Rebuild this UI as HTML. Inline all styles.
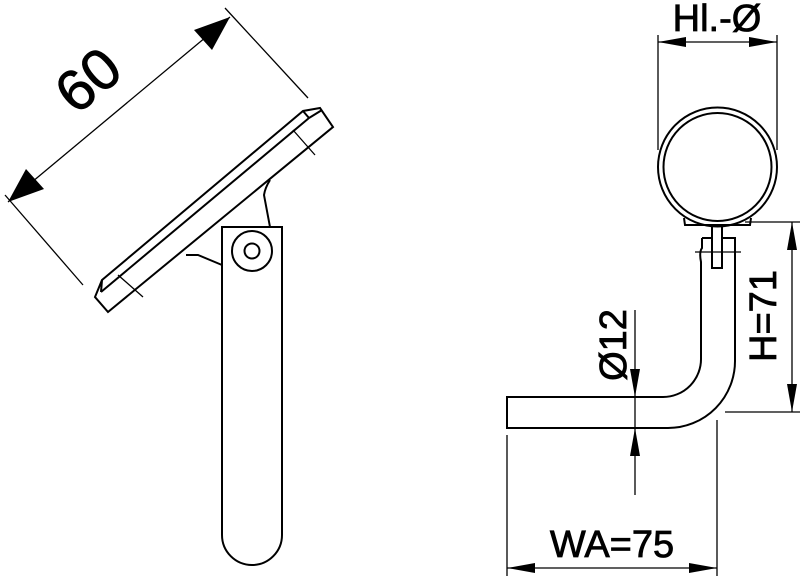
<!DOCTYPE html>
<html><head><style>body{margin:0;background:#fff}svg{display:block}</style></head><body>
<svg width="800" height="576" viewBox="0 0 800 576" xmlns="http://www.w3.org/2000/svg" font-family="Liberation Sans, sans-serif">
<g fill="none" stroke="#000" stroke-width="2">
<polygon points="102,280 303,111 320,108 333,127 108,312 95,297"/>
<line x1="101" y1="292" x2="309" y2="118"/>
<line x1="309" y1="118" x2="322" y2="110"/>
<line x1="102" y1="280" x2="101" y2="292"/>
<line x1="303" y1="111" x2="309" y2="118"/>
<path d="M270,227 L264,195 Q265,188 270,180"/>
<path d="M222,265 L198,255 L186,255"/>
<path d="M222,227 H282 V535 A30,30 0 0 1 222,535 Z"/>
<circle cx="252" cy="251" r="20"/>
<circle cx="252" cy="251" r="7.5"/>
<circle cx="717.5" cy="167" r="59.5"/>
<circle cx="717.5" cy="167" r="54"/>
<path d="M684,218 L685,225 L750,225 L751,218"/>
<path d="M712,227 V268 H722 V227"/>
<path d="M702,238 V248 Q699,252 701,262 V358 A38,38 0 0 1 663,397 H507 V428 H668 A67,67 0 0 0 735,360 V238 H722"/>
<line x1="702" y1="238" x2="712" y2="238"/>
</g>
<g stroke="#000" stroke-width="1.3" fill="none">
<line x1="293" y1="130" x2="315" y2="155"/>
<line x1="118" y1="275" x2="143" y2="297"/>
<line x1="225" y1="8" x2="308" y2="98"/>
<line x1="5" y1="195" x2="83" y2="285"/>
<line x1="8" y1="202" x2="230" y2="17"/>
<line x1="658" y1="35" x2="658" y2="150"/>
<line x1="777" y1="35" x2="777" y2="150"/>
<line x1="658" y1="42" x2="777" y2="42"/>
<line x1="695" y1="252" x2="741" y2="252"/>
<line x1="745" y1="222" x2="800" y2="222"/>
<line x1="725" y1="412" x2="800" y2="412"/>
<line x1="792" y1="222" x2="792" y2="412"/>
<line x1="635" y1="310" x2="635" y2="495"/>
<line x1="507" y1="435" x2="507" y2="576"/>
<line x1="717" y1="420" x2="717" y2="576"/>
<line x1="507" y1="568" x2="717" y2="568"/>
</g>
<g fill="#000">
<polygon points="230,17 212,50 194,30"/>
<polygon points="8,202 26,169 44,189"/>
<polygon points="658,42 686,37 686,47"/>
<polygon points="777,42 749,37 749,47"/>
<polygon points="792,222 787,250 797,250"/>
<polygon points="792,412 787,384 797,384"/>
<polygon points="635,397 630,369 640,369"/>
<polygon points="635,428 630,456 640,456"/>
<polygon points="507,568 535,563 535,573"/>
<polygon points="717,568 689,563 689,573"/>
</g>
<g fill="#000" stroke="#000" stroke-width="0.8" font-size="38">
<text x="88" y="100" text-anchor="middle" font-size="58" transform="rotate(-40 88 80)">60</text>
<text x="717" y="31" text-anchor="middle">Hl.-Ø</text>
<text x="612" y="557" text-anchor="middle">WA=75</text>
<text transform="translate(776,316) rotate(-90)" text-anchor="middle">H=71</text>
<text transform="translate(626,345) rotate(-90)" text-anchor="middle">Ø12</text>
</g>
</svg>
</body></html>
